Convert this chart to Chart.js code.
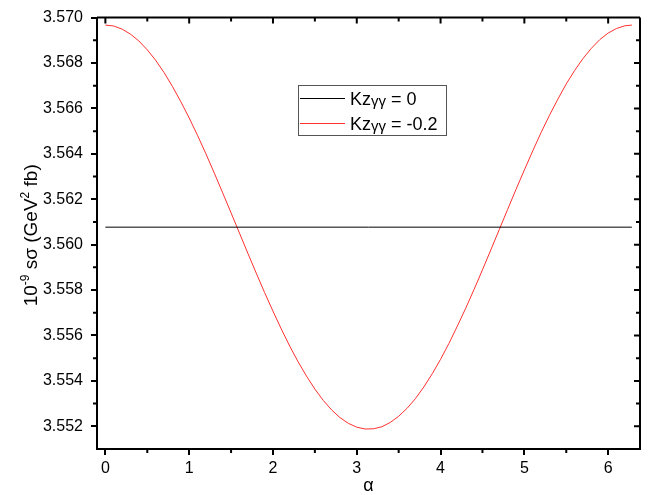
<!DOCTYPE html>
<html>
<head>
<meta charset="utf-8">
<script src="https://cdn.jsdelivr.net/npm/chart.js@4"></script>
<style>
  html, body { margin: 0; padding: 0; background: #fff; }
  #wrap { width: 662px; height: 495px; }
</style>
</head>
<body>
<div id="wrap"><canvas id="chart" width="662" height="495"></canvas></div>
<script>
// values
const alphaK0 = [0, 6.2832];
const sigmaK0 = [3.56077, 3.56077];

const alphaKm02 = [0.0, 0.1, 0.2, 0.3, 0.4, 0.5, 0.6, 0.7, 0.8, 0.9,
  1.0, 1.1, 1.2, 1.3, 1.4, 1.5, 1.6, 1.7, 1.8, 1.9,
  2.0, 2.1, 2.2, 2.3, 2.4, 2.5, 2.6, 2.7, 2.8, 2.9,
  3.0, 3.1, 3.2, 3.3, 3.4, 3.5, 3.6, 3.7, 3.8, 3.9,
  4.0, 4.1, 4.2, 4.3, 4.4, 4.5, 4.6, 4.7, 4.8, 4.9,
  5.0, 5.1, 5.2, 5.3, 5.4, 5.5, 5.6, 5.7, 5.8, 5.9,
  6.0, 6.1, 6.2, 6.2832];
const sigmaKm02 = [3.56967, 3.56963, 3.56949, 3.56927, 3.56897, 3.56858, 3.56812, 3.56758, 3.56697, 3.56630,
  3.56558, 3.56481, 3.56400, 3.56315, 3.56228, 3.56140, 3.56051, 3.55962, 3.55875, 3.55789,
  3.55707, 3.55628, 3.55553, 3.55484, 3.55421, 3.55364, 3.55314, 3.55272, 3.55238, 3.55213,
  3.55196, 3.55188, 3.55189, 3.55198, 3.55217, 3.55244, 3.55279, 3.55322, 3.55373, 3.55431,
  3.55495, 3.55565, 3.55641, 3.55720, 3.55803, 3.55889, 3.55977, 3.56066, 3.56155, 3.56243,
  3.56329, 3.56413, 3.56494, 3.56570, 3.56641, 3.56708, 3.56767, 3.56820, 3.56865, 3.56903,
  3.56932, 3.56952, 3.56964, 3.56967];

const xTicks = [0, 1, 2, 3, 4, 5, 6];
const yTicks = [3.552, 3.554, 3.556, 3.558, 3.560, 3.562, 3.564, 3.566, 3.568, 3.570];
const seriesNames = [' = 0', ' = -0.2'];

const FONT = 'Liberation Sans, Arial, sans-serif';

function toPoints(xs, ys) {
  return xs.map((x, i) => ({ x: x, y: ys[i] }));
}

// frame, inward ticks on top/right, minor ticks, legend and axis titles
const decorations = {
  id: 'decorations',
  afterDraw(chart) {
    const ctx = chart.ctx;
    const a = chart.chartArea;
    const xs = chart.scales.x, ys = chart.scales.y;
    ctx.save();
    ctx.strokeStyle = '#000';
    ctx.lineWidth = 2;
    ctx.beginPath();
    ctx.moveTo(a.left, a.top); ctx.lineTo(a.right, a.top);
    ctx.moveTo(a.right, a.top); ctx.lineTo(a.right, a.bottom);
    // top ticks (inward)
    xTicks.forEach(v => { const p = xs.getPixelForValue(v); ctx.moveTo(p, a.top); ctx.lineTo(p, a.top + 6); });
    for (let v = 0.5; v < 6.4; v += 1) {
      const p = xs.getPixelForValue(v);
      ctx.moveTo(p, a.top); ctx.lineTo(p, a.top + 4);
      ctx.moveTo(p, a.bottom); ctx.lineTo(p, a.bottom + 4);
    }
    // right ticks (inward)
    yTicks.forEach(v => { const p = ys.getPixelForValue(v); ctx.moveTo(a.right, p); ctx.lineTo(a.right - 6, p); });
    for (let v = 3.553; v < 3.5701; v += 0.002) {
      const p = ys.getPixelForValue(v);
      ctx.moveTo(a.right, p); ctx.lineTo(a.right - 4, p);
      ctx.moveTo(a.left, p); ctx.lineTo(a.left - 4, p);
    }
    ctx.stroke();

    // legend
    ctx.lineWidth = 1;
    ctx.strokeStyle = '#555';
    ctx.strokeRect(298.5, 85.5, 148, 50);
    const rows = [{ y: 98, color: '#000' }, { y: 123, color: '#ff3030' }];
    rows.forEach((r, i) => {
      ctx.strokeStyle = r.color;
      ctx.beginPath();
      ctx.moveTo(300, r.y + 0.5); ctx.lineTo(345, r.y + 0.5);
      ctx.stroke();
      ctx.fillStyle = '#000';
      ctx.textBaseline = 'alphabetic';
      ctx.font = '18px ' + FONT;
      let x = 350;
      ctx.fillText('Kz', x, r.y + 7);
      x += ctx.measureText('Kz').width;
      ctx.font = '15px ' + FONT;
      ctx.fillText('γγ', x, r.y + 8);
      x += ctx.measureText('γγ').width;
      ctx.font = '18px ' + FONT;
      ctx.fillText(seriesNames[i], x, r.y + 7);
    });

    // x title
    ctx.font = '18px ' + FONT;
    ctx.textAlign = 'center';
    ctx.fillText('α', (a.left + a.right) / 2, 491);

    // y title with superscripts
    const parts = [['10', 19, 0], ['-9', 12, -8], [' sσ (GeV', 19, 0], ['2', 12, -8], [' fb)', 19, 0]];
    ctx.textAlign = 'left';
    let total = 0;
    parts.forEach(p => { ctx.font = p[1] + 'px ' + FONT; total += ctx.measureText(p[0]).width; });
    ctx.translate(37, (a.top + a.bottom) / 2 + 2);
    ctx.rotate(-Math.PI / 2);
    let x = -total / 2;
    parts.forEach(p => {
      ctx.font = p[1] + 'px ' + FONT;
      ctx.fillText(p[0], x, p[2]);
      x += ctx.measureText(p[0]).width;
    });
    ctx.restore();
  }
};

const config = {
  type: 'line',
  data: {
    datasets: [
      {
        label: 'Kzγγ = 0',
        data: toPoints(alphaK0, sigmaK0),
        borderColor: '#000',
        borderWidth: 1,
        pointRadius: 0,
        fill: false
      },
      {
        label: 'Kzγγ = -0.2',
        data: toPoints(alphaKm02, sigmaKm02),
        borderColor: '#ff3030',
        borderWidth: 1,
        pointRadius: 0,
        tension: 0,
        fill: false
      }
    ]
  },
  options: {
    responsive: false,
    animation: false,
    layout: { padding: { top: 7, right: 22, left: 0, bottom: 0 } },
    plugins: { legend: { display: false }, tooltip: { enabled: false } },
    scales: {
      x: {
        type: 'linear',
        min: -0.1,
        max: 6.38,
        afterBuildTicks: s => { s.ticks = xTicks.map(v => ({ value: v })); },
        afterFit: s => { s.height = 46; },
        ticks: { color: '#000', font: { family: FONT, size: 16 }, padding: 4, maxRotation: 0,
          callback: v => String(v) },
        grid: { drawOnChartArea: false, color: '#000', lineWidth: 2, tickLength: 6 },
        border: { color: '#000', width: 2 }
      },
      y: {
        type: 'linear',
        min: 3.551,
        max: 3.570,
        afterBuildTicks: s => { s.ticks = yTicks.map(v => ({ value: v })); },
        afterFit: s => { s.width = 97; },
        ticks: { color: '#000', font: { family: FONT, size: 16 }, padding: 8,
          callback: v => v.toFixed(3) },
        grid: { drawOnChartArea: false, color: '#000', lineWidth: 2, tickLength: 6 },
        border: { color: '#000', width: 2 }
      }
    }
  },
  plugins: [decorations]
};

const chart = new Chart(document.getElementById('chart'), config);
</script>
</body>
</html>
